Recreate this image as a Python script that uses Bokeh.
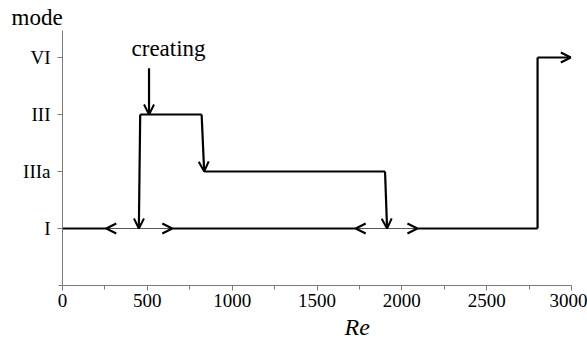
from bokeh.plotting import figure
from bokeh.models import ColumnDataSource, Arrow, OpenHead, Label, FixedTicker, Range1d, Title
from bokeh.embed import file_html
from bokeh.resources import INLINE

# ---- data ----
mode_levels = [1, 2, 3, 4]
mode_names = ["I", "IIIa", "III", "VI"]

x_ticks = [0, 500, 1000, 1500, 2000, 2500, 3000]
x_minor = [250, 750, 1250, 1750, 2250, 2750]

# mode I branch: solid parts and hysteresis (thin) parts, at level 1
re_I_solid = [[0, 258], [647, 1728], [2092, 2800]]
re_I_thin = [[258, 647], [1728, 2092]]

# jump I -> VI
re_jump = 2800
re_VI_end = 2996

# mode III and IIIa plateaus
re_III = [458, 820]
re_IIIa = [835, 1901]

# transitions with arrows (start Re, start mode, end Re, end mode)
tr_x0 = [458, 820, 1901, 510, re_jump]
tr_y0 = [3, 3, 2, 3.81, 4]
tr_x1 = [450, 835, 1913, 510, re_VI_end]
tr_y1 = [1, 2, 1, 3, 4]

# arrow heads on the mode I line (hysteresis limits)
hd_x0 = [300, 605, 1770, 2050]
hd_x1 = [258, 647, 1728, 2092]
hd_y = [1, 1, 1, 1]

FONT = "Liberation Serif"

p = figure(frame_width=509, frame_height=255,
           x_range=Range1d(0, 3000), y_range=Range1d(0, 4.474),
           output_backend="svg", toolbar_location=None,
           min_border_left=62, min_border_right=16,
           min_border_top=30, min_border_bottom=58,
           background_fill_color="white", border_fill_color="white")
p.outline_line_color = None
p.xgrid.visible = False
p.ygrid.visible = False

axc = "#7a7a7a"
p.xaxis.ticker = FixedTicker(ticks=x_ticks, minor_ticks=x_minor)
p.xaxis.axis_line_color = axc
p.xaxis.major_tick_line_color = axc
p.xaxis.minor_tick_line_color = axc
p.xaxis.major_tick_in = 0
p.xaxis.major_tick_out = 5
p.xaxis.minor_tick_in = 0
p.xaxis.minor_tick_out = 4
p.xaxis.major_label_text_font = FONT
p.xaxis.major_label_text_font_size = "19px"
p.xaxis.major_label_text_color = "black"
p.xaxis.major_label_standoff = 3

p.yaxis.ticker = FixedTicker(ticks=mode_levels, minor_ticks=[0])
p.yaxis.major_label_overrides = {lev: name for lev, name in zip(mode_levels, mode_names)}
p.yaxis.axis_line_color = axc
p.yaxis.major_tick_line_color = axc
p.yaxis.minor_tick_line_color = axc
p.yaxis.major_tick_in = 0
p.yaxis.major_tick_out = 5
p.yaxis.minor_tick_in = 0
p.yaxis.minor_tick_out = 4
p.yaxis.major_label_text_font = FONT
p.yaxis.major_label_text_font_size = "19px"
p.yaxis.major_label_text_color = "black"
p.yaxis.major_label_standoff = 7

# lines
lw = 2.2
p.multi_line(xs=re_I_solid, ys=[[1, 1]] * len(re_I_solid), line_color="black", line_width=lw)
p.multi_line(xs=re_I_thin, ys=[[1, 1]] * len(re_I_thin), line_color="#555555", line_width=1)
p.line(x=[re_jump, re_jump], y=[mode_levels[0], mode_levels[3]], line_color="black", line_width=lw)
p.line(x=re_III, y=[3, 3], line_color="black", line_width=lw)
p.line(x=re_IIIa, y=[2, 2], line_color="black", line_width=lw)

tr_src = ColumnDataSource(dict(x0=tr_x0, y0=tr_y0, x1=tr_x1, y1=tr_y1))
p.add_layout(Arrow(source=tr_src, x_start="x0", y_start="y0", x_end="x1", y_end="y1",
                   line_color="black", line_width=lw,
                   end=OpenHead(size=10, line_color="black", line_width=2)))

hd_src = ColumnDataSource(dict(x0=hd_x0, y0=hd_y, x1=hd_x1, y1=hd_y))
p.add_layout(Arrow(source=hd_src, x_start="x0", y_start="y0", x_end="x1", y_end="y1",
                   line_color=None, line_width=0,
                   end=OpenHead(size=10, line_color="black", line_width=2)))

p.add_layout(Label(x=625, y=4.16, text="creating", text_font=FONT, text_font_size="23px",
                   text_color="black", text_align="center", text_baseline="middle"))

p.add_layout(Title(text="mode", text_font=FONT, text_font_size="23px", text_font_style="normal",
                   text_color="black", align="left", offset=-51, standoff=1), "above")
p.add_layout(Title(text="Re", text_font=FONT, text_font_size="24px", text_font_style="italic",
                   text_color="black", align="left", offset=282, standoff=5), "below")

open("out.html", "w").write(file_html(p, INLINE))
